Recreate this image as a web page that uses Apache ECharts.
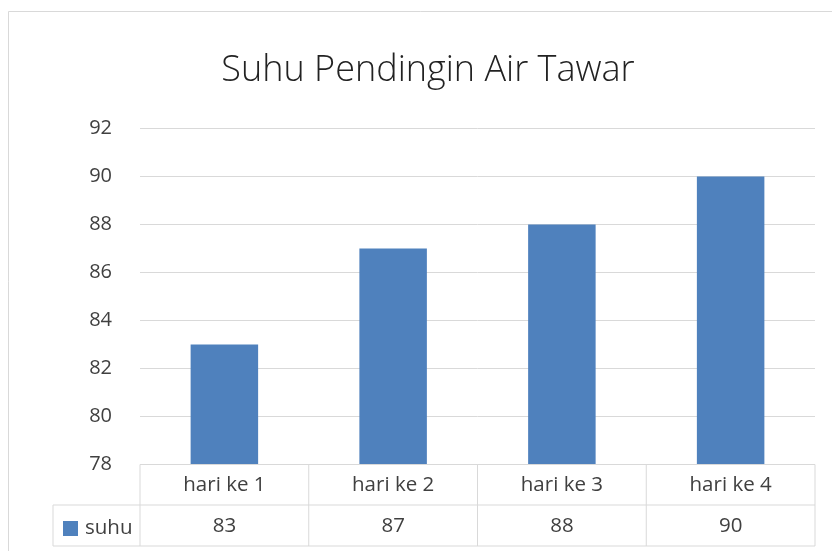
<!DOCTYPE html>
<html>
<head>
<meta charset="utf-8">
<script src="https://cdn.jsdelivr.net/npm/echarts@6/dist/echarts.min.js"></script>
<style>
html,body{margin:0;padding:0;background:#fff;}
#chart{width:832px;height:551px;}
</style>
</head>
<body>
<div id="chart"></div>
<script>
const titleText = 'Suhu Pendingin Air Tawar';
const categories = ['hari ke 1', 'hari ke 2', 'hari ke 3', 'hari ke 4'];
const seriesName = 'suhu';
const values = [83, 87, 88, 90];
const yTicks = [78, 80, 82, 84, 86, 88, 90, 92];

const W = 832, H = 551;
const gridLeft = 140, gridRight = 815, gridTop = 128.5, gridBottom = 464.5;
const row1Bottom = 505, row2Bottom = 546, tableLeft = 53;
const lineColor = '#d9d9d9';
const textColor = '#404040';
const fontFamily = '"Open Sans", "Noto Sans", sans-serif';

const chart = echarts.init(document.getElementById('chart'), null, {renderer: 'canvas'});

const colW = (gridRight - gridLeft) / categories.length;
const graphics = [];
function hline(x1, x2, y) {
  graphics.push({type: 'line', shape: {x1: x1, y1: y, x2: x2, y2: y}, style: {stroke: lineColor, lineWidth: 1}, z: 10});
}
function vline(x, y1, y2) {
  graphics.push({type: 'line', shape: {x1: x, y1: y1, x2: x, y2: y2}, style: {stroke: lineColor, lineWidth: 1}, z: 10});
}
// chart frame
graphics.push({type: 'rect', shape: {x: 8.5, y: 11.5, width: 900, height: 700}, style: {fill: null, stroke: lineColor, lineWidth: 1}, z: 0});
// data table
hline(gridLeft, gridRight, gridBottom);
hline(tableLeft, gridRight, row1Bottom);
hline(tableLeft, gridRight, row2Bottom);
vline(tableLeft, row1Bottom, row2Bottom);
for (let i = 0; i <= categories.length; i++) {
  vline(gridLeft + i * colW, gridBottom, row2Bottom);
}

chart.setOption({
  animation: false,
  backgroundColor: '#fff',
  title: {
    text: titleText,
    left: 423,
    textAlign: 'center',
    top: 48,
    textStyle: {fontFamily: fontFamily, fontSize: 36, fontWeight: 300, color: '#222'}
  },
  legend: {
    data: [seriesName],
    left: 63,
    top: 518,
    icon: 'rect',
    itemWidth: 15,
    itemHeight: 15,
    itemGap: 0,
    padding: 0,
    textStyle: {fontFamily: fontFamily, fontSize: 20.5, color: textColor, padding: [0, 0, 0, 2]}
  },
  grid: {
    left: gridLeft,
    right: W - gridRight,
    top: gridTop,
    bottom: H - gridBottom,
    containLabel: false
  },
  xAxis: [
    {
      type: 'category',
      data: categories,
      position: 'bottom',
      axisLine: {show: false},
      axisTick: {show: false},
      axisLabel: {margin: 21, verticalAlign: 'middle', fontFamily: fontFamily, fontSize: 20.5, color: textColor}
    },
    {
      type: 'category',
      data: values.map(String),
      position: 'bottom',
      axisLine: {show: false},
      axisTick: {show: false},
      axisLabel: {margin: 62, verticalAlign: 'middle', fontFamily: fontFamily, fontSize: 20.5, color: textColor}
    }
  ],
  yAxis: {
    type: 'value',
    min: yTicks[0],
    max: yTicks[yTicks.length - 1],
    interval: 2,
    axisLine: {show: false},
    axisTick: {show: false},
    splitLine: {lineStyle: {color: lineColor, width: 1}},
    axisLabel: {margin: 28, fontFamily: fontFamily, fontSize: 20, color: textColor}
  },
  series: [{
    name: seriesName,
    type: 'bar',
    xAxisIndex: 0,
    data: values,
    barWidth: '40%',
    itemStyle: {color: '#4f81bd'}
  }],
  graphic: graphics
});
</script>
</body>
</html>
